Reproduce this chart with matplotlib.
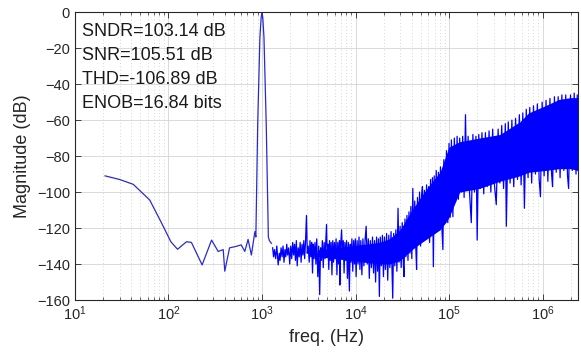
import matplotlib
matplotlib.use("Agg")
import matplotlib.pyplot as plt
from matplotlib.ticker import LogLocator, NullLocator, LogFormatterMathtext

plt.rcParams['font.family'] = ['Liberation Sans', 'DejaVu Sans']
plt.rcParams['mathtext.default'] = 'regular'

# low frequency part and the test tone, read point by point
f_tone = [21, 30, 42, 63, 84, 106, 125, 156, 176, 229, 289, 340, 385, 400, 450,
          510, 600, 655, 710, 770, 840, 860, 900, 950, 980, 1000, 1020, 1050,
          1110, 1170, 1200, 1260]
db_tone = [-91, -93, -95.7, -104.4, -117, -127.6, -131.8, -127.6, -128, -140.5,
           -126.7, -133, -132, -144, -131, -130.4, -129.4, -133, -126.3, -135,
           -122, -125, -62, -14, -3, 0, -3, -14, -62, -125, -127, -128.5]

# noise floor, its peaks and dips (10 per row)
f_noise = [
    1300, 1330, 1360, 1400, 1440, 1490, 1530, 1560, 1600, 1640,
    1680, 1720, 1760, 1800, 1840, 1880, 1930, 1980, 2030, 2080,
    2130, 2180, 2230, 2280, 2330, 2380, 2440, 2500, 2560, 2620,
    2680, 2740, 2800, 2860, 2920, 2990, 3050, 3120, 3200, 3260,
    3330, 3400, 3470, 3540, 3610, 3690, 3770, 3850, 3950, 4040,
    4140, 4230, 4320, 4420, 4520, 4620, 4720, 4820, 4900, 4980,
    5080, 5180, 5280, 5380, 5490, 5600, 5710, 5830, 5950, 6070,
    6200, 6330, 6460, 6600, 6740, 6800, 6950, 7100, 7250, 7400,
    7550, 7700, 7860, 8020, 8200, 8380, 8600, 8780, 8960, 9150,
    9350, 9550, 9750, 9950, 10150, 10400, 10650, 10900, 11150, 11400,
    11700, 12000, 12300, 12650, 13000, 13350, 13700, 14050, 14400, 14800,
    15200, 15600, 16000, 16400, 16800, 17200, 17600, 18000, 18400, 18900,
    19400, 19900, 20400, 20900, 21500, 22100, 22700, 23300, 24000, 24600,
    25000, 25600, 26300, 27000, 27700, 28500, 29200, 30000, 30800, 31600,
    32500, 33000, 33800, 34600, 35500, 36400, 37300, 38200, 39100, 40000,
    41000, 42000, 43000, 44000, 45000, 46000, 47200, 48400, 49600, 50800,
    52000, 53300, 54600, 56000, 57500, 59000, 60500, 62000, 63500, 65000,
    66500, 68000, 69500, 71000, 73000, 75000, 77000, 79000, 81000, 83000,
    86000, 88000, 91000, 94000, 97000, 100000, 103000, 106000, 110000, 114000,
    118000, 122000, 126000, 130000, 135000, 140000, 145000, 150000, 155000, 160000,
    166000, 173000, 180000, 187000, 194000, 200000, 208000, 216000, 225000, 235000,
    245000, 256000, 268000, 280000, 293000, 306000, 320000, 335000, 350000, 366000,
    383000, 400000, 410000, 430000, 450000, 470000, 492000, 515000, 540000, 565000,
    590000, 615000, 640000, 670000, 700000, 730000, 765000, 800000, 840000, 880000,
    920000, 950000, 990000, 1040000, 1090000, 1140000, 1200000, 1250000, 1280000, 1340000,
    1400000, 1470000, 1540000, 1610000, 1690000, 1770000, 1850000, 1900000, 1990000, 2080000,
    2180000, 2280000, 2350000, 2400000]
db_noise = [
    -131, -136, -132, -137, -130, -140.5, -134, -138, -131, -136,
    -130, -139, -132, -136, -129, -135, -131, -140, -130, -137,
    -128, -135, -129, -138, -127, -141, -131, -136, -128, -139,
    -129, -135, -127, -137, -128, -113, -134, -130, -139, -127,
    -136, -128, -145, -129, -137, -128, -140, -126, -147, -130,
    -157, -131, -138, -127, -142, -128, -137, -127, -118, -136,
    -129, -143, -127, -138, -128, -146, -127, -139, -128, -137,
    -126, -146, -128, -140, -127, -151.7, -129, -121, -137, -127,
    -145, -128, -138, -127, -148, -128, -155, -129, -139, -126,
    -144, -127, -140, -126, -147, -127, -140, -125, -143, -127,
    -146, -126, -141, -127, -119, -140, -126, -148, -127, -142,
    -125, -145, -127, -150, -125, -144, -126, -158, -125, -141,
    -124, -147, -125, -143, -123, -149, -124, -142, -122, -145,
    -159, -123, -141, -121, -144, -109, -139, -119, -142, -117,
    -140, -147, -115, -136, -113, -138, -111, -134, -108, -137,
    -98, -131, -105, -129, -143, -103, -127, -100, -130, -102,
    -97, -124, -99, -126, -96, -122, -97, -128, -93, -124,
    -92, -141.5, -91, -120, -88, -118, -89, -121, -86, -115,
    -132, -82, -112, -77, -117, -73, -114, -71, -113.7, -70,
    -102, -69, -104, -70, -100, -69, -103, -57, -99, -69,
    -101, -117, -68, -100, -69, -126.7, -68, -98, -67, -101,
    -67, -97, -66, -100, -65, -96, -107, -65, -95, -63,
    -98, -62, -119, -61, -95, -60, -97, -59, -93, -57,
    -96, -56, -109, -54, -92, -53, -95, -52, -90, -51,
    -93, -102.6, -50, -91, -49, -94, -48, -90, -97, -47,
    -89, -47, -92, -46, -88, -46, -91, -98, -46, -88,
    -45, -90, -46, -88]

# edges of the solid part of the noise
band_f = [4000, 6000, 9000, 12500, 18000, 23000, 30000, 38000, 48000, 62000,
          80000, 92000, 100000, 130000, 210000, 350000, 570000, 710000,
          1070000, 1500000, 2000000, 2400000]
band_top = [-132, -131, -130, -129, -128, -126, -121, -112, -104, -96,
            -89, -80, -75, -72, -70, -68, -61, -56, -52, -48.5, -47.5, -47.5]
band_bot = [-136, -137, -138, -139, -140, -140, -138, -133, -129, -125,
            -121, -117, -114, -100, -98, -94, -91, -89, -88, -87, -87, -88]

labels = ['SNDR=103.14 dB', 'SNR=105.51 dB', 'THD=-106.89 dB', 'ENOB=16.84 bits']
y_ticks = [0, -20, -40, -60, -80, -100, -120, -140, -160]

fig = plt.figure(figsize=(5.81, 3.58), dpi=100)
ax = fig.add_axes([0.129, 0.162, 0.866, 0.804])

blue = '#0000ff'
ax.fill_between(band_f, band_bot, band_top, color=blue, lw=0)
ax.plot(f_noise, db_noise, color=blue, lw=0.9)
ax.plot(f_tone, db_tone, color='#2a2ad0', lw=0.9)

ax.set_xscale('log')
ax.set_xlim(10, 2.4e6)
ax.set_ylim(-160, 0)
ax.set_yticks(y_ticks)
ax.xaxis.set_major_locator(LogLocator(base=10, numticks=10))
ax.xaxis.set_minor_locator(LogLocator(base=10, subs=range(2, 10), numticks=20))
ax.xaxis.set_major_formatter(LogFormatterMathtext())
ax.yaxis.set_minor_locator(NullLocator())

ax.grid(True, which='major', color='#d4d4d4', lw=0.6, ls='-')
ax.grid(True, which='minor', axis='x', color='#c8c8c8', lw=0.6, ls=(0, (1, 3)))
ax.set_axisbelow(True)

ax.tick_params(which='both', direction='in', top=True, right=True,
               colors='#262626', labelsize=10.5)
ax.tick_params(which='major', length=4, width=0.6)
ax.tick_params(which='minor', length=2.5, width=0.5)
for s in ax.spines.values():
    s.set_color('#262626')
    s.set_linewidth(0.8)

ax.set_xlabel('freq. (Hz)', fontsize=13, color='#262626', labelpad=4)
ax.set_ylabel('Magnitude (dB)', fontsize=13, color='#262626', labelpad=4)

for i, t in enumerate(labels):
    ax.text(0.014, 0.9167 - 0.0833 * i, t, transform=ax.transAxes,
            fontsize=13, color='#1a1a1a', va='baseline', ha='left')

fig.savefig('out.png', dpi=100)
